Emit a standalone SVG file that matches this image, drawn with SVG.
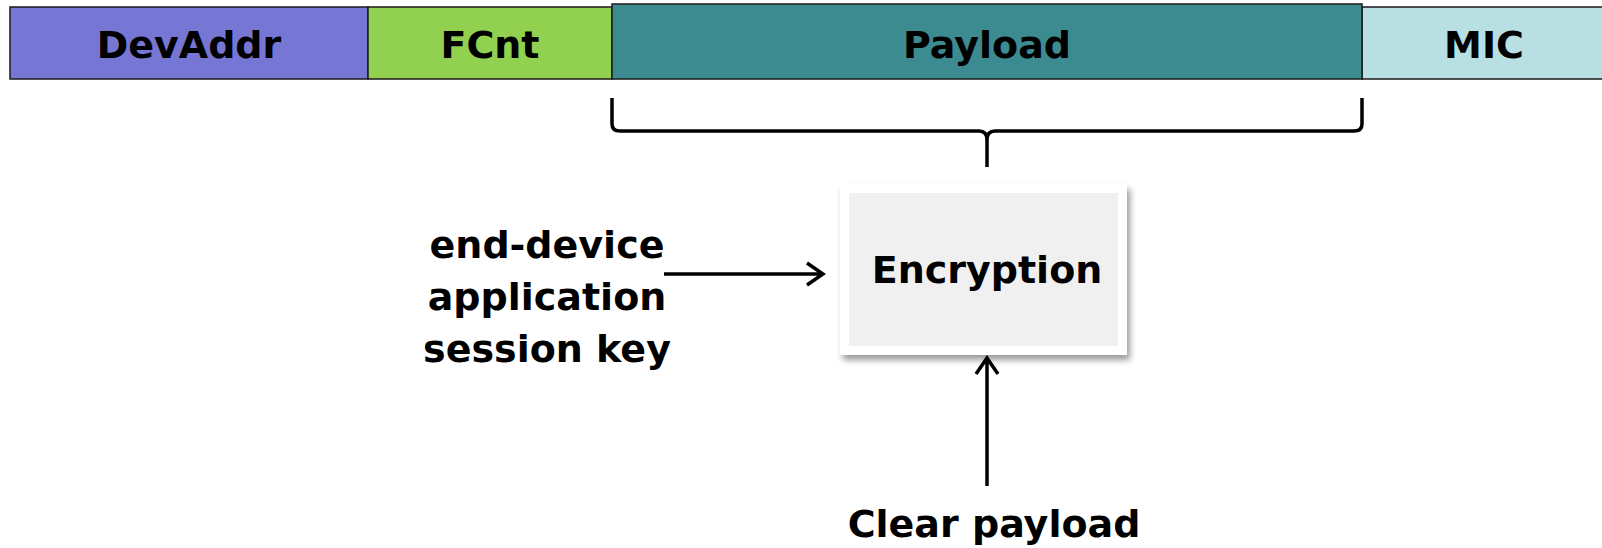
<svg xmlns="http://www.w3.org/2000/svg" width="1602" height="548" viewBox="0 0 1602 548">
<style>
.t{font-family:"DejaVu Sans",Verdana,sans-serif;font-weight:bold;font-size:38px;fill:#000;text-anchor:middle}
.f{stroke:#1a1a1a;stroke-width:1.5}
.c{fill:none;stroke:#000;stroke-width:3.5}
</style>
<defs>
<marker id="ah" viewBox="0 0 24 26" refX="21" refY="13" markerWidth="24" markerHeight="26" markerUnits="userSpaceOnUse" orient="auto">
<path d="M5,2 L21,13 L5,24" fill="none" stroke="#000" stroke-width="3.5"/>
</marker>
<filter id="sh" x="-10%" y="-10%" width="125%" height="130%">
<feDropShadow dx="3" dy="5" stdDeviation="3" flood-color="#000" flood-opacity="0.4"/>
</filter>
</defs>
<g id="devaddr"><rect class="f" x="10" y="7" width="358" height="72" fill="#7676d4"/><text class="t" x="189" y="58">DevAddr</text></g>
<g id="fcnt"><rect class="f" x="368" y="7" width="244" height="72" fill="#92d050"/><text class="t" x="490" y="58">FCnt</text></g>
<g id="mic"><rect class="f" x="1362" y="7" width="250" height="72" fill="#b8e0e3"/><text class="t" x="1484" y="58">MIC</text></g>
<g id="payload"><rect class="f" x="612" y="4" width="750" height="75" fill="#3c8b90"/><text class="t" x="987" y="58">Payload</text></g>
<g id="encryption">
<rect x="840" y="184" width="287" height="171" fill="#ffffff" filter="url(#sh)"/>
<rect x="849" y="193" width="269" height="153" fill="#f0f0f0"/>
<text class="t" x="987" y="283">Encryption</text>
</g>
<g id="key"><text class="t" x="547" y="258">end-device</text><text class="t" x="547" y="310">application</text><text class="t" x="547" y="362">session key</text></g>
<g id="clear"><text class="t" x="994" y="537">Clear payload</text></g>
<g id="connectors">
<path class="c" d="M612,98 V124 Q612,131 620,131 H979 Q987,131 987,140 V167 M987,140 Q987,131 995,131 H1354 Q1362,131 1362,124 V98"/>
<line class="c" x1="664" y1="274" x2="823" y2="274" marker-end="url(#ah)"/>
<line class="c" x1="987" y1="486" x2="987" y2="358" marker-end="url(#ah)"/>
</g>
</svg>
